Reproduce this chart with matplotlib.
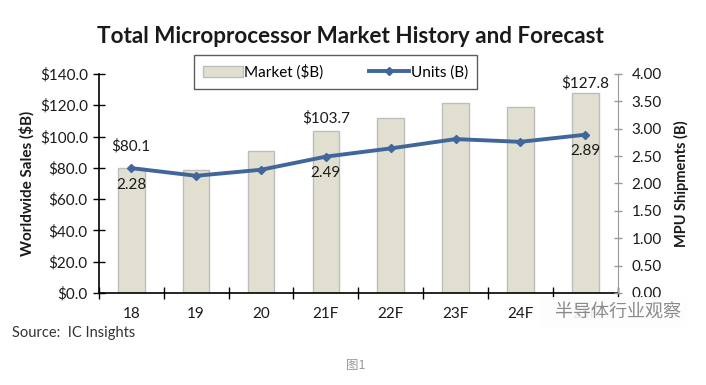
import matplotlib
matplotlib.use("Agg")
import matplotlib.pyplot as plt
import numpy as np

# data
years = ["18", "19", "20", "21F", "22F", "23F", "24F", "25F"]
market = [80.1, 78.4, 90.6, 103.7, 111.6, 121.5, 119.0, 127.8]
units = [2.28, 2.14, 2.25, 2.49, 2.64, 2.81, 2.76, 2.89]
market_labels = {0: "$80.1", 3: "$103.7", 7: "$127.8"}
unit_labels = {0: "2.28", 3: "2.49", 7: "2.89"}

plt.rcParams["font.family"] = ["Lato", "DejaVu Sans"]

bar_color = "#E1E0D0"
bar_edge = "#BDBDBD"
line_color = "#41679A"
text_color = "#1A1A1A"

fig = plt.figure(figsize=(7.06, 3.85), dpi=100)
ax = fig.add_axes([0.140, 0.239, 0.735, 0.569])
ax2 = ax.twinx()

x = np.arange(len(years))
bars = ax.bar(x, market, width=0.41, color=bar_color, edgecolor=bar_edge,
              linewidth=1.0, label="Market ($B)", zorder=2)
ax.set_xlim(-0.5, len(years) - 0.5)
ax.set_ylim(0, 140)
ax.set_yticks(np.arange(0, 141, 20))
ax.set_yticklabels([f"${v:.1f}" for v in np.arange(0, 141, 20)])

ax2.plot(x, units, color=line_color, linewidth=2.8, marker="D",
         markersize=4.5, label="Units (B)", zorder=3)
ax2.set_ylim(0, 4)
ax2.set_yticks(np.arange(0, 4.01, 0.5))
ax2.set_yticklabels([f"{v:.2f}" for v in np.arange(0, 4.01, 0.5)])

# the first label sits above the line point, the others just above the bar
label_gap = {0: 10, 3: 4, 7: 2}
for i, lbl in market_labels.items():
    ax.annotate(lbl, (x[i], market[i]), xytext=(0, label_gap[i]),
                textcoords="offset points", ha="center", va="bottom",
                fontsize=11, color=text_color)
for i, lbl in unit_labels.items():
    ax2.annotate(lbl, (x[i], units[i]), xytext=(0, -7),
                 textcoords="offset points", ha="center", va="top",
                 fontsize=11, color=text_color)

# axes styling
ax.set_xticks(x)
ax.set_xticklabels(years)
ax.set_xticks(np.arange(-0.5, len(years), 1), minor=True)
ax.tick_params(axis="x", which="major", length=0, pad=10, labelsize=11,
               labelcolor=text_color)
ax.tick_params(axis="x", which="minor", length=8, direction="inout", width=1)
ax.tick_params(axis="y", length=8, direction="inout", width=1, labelsize=11,
               labelcolor=text_color, pad=4)
ax2.tick_params(axis="y", length=6, direction="inout", width=1, labelsize=11,
                labelcolor=text_color, pad=7, color="#999999")
for a in (ax, ax2):
    a.spines["top"].set_visible(False)
ax.spines["right"].set_visible(False)
ax2.spines["left"].set_visible(False)
ax2.spines["bottom"].set_visible(False)
ax.spines["left"].set_linewidth(1.2)
ax.spines["bottom"].set_linewidth(1.2)
ax2.spines["right"].set_color("#999999")

ax.set_ylabel("Worldwide Sales ($B)", fontsize=11, fontweight="bold",
              color=text_color, labelpad=4)
ax2.set_ylabel("MPU Shipments (B)", fontsize=10.5, fontweight="bold",
               color=text_color, labelpad=9)

fig.text(0.497, 0.905, "Total Microprocessor Market History and Forecast",
         ha="center", va="center", fontsize=16.2, fontweight="bold",
         color=text_color)

handles = [bars, ax2.get_lines()[0]]
leg = fig.legend(handles, ["Market ($B)", "Units (B)"], ncol=2,
                 loc="center", bbox_to_anchor=(0.475, 0.813),
                 frameon=True, fancybox=False, fontsize=11,
                 handlelength=2.6, columnspacing=3.0, borderpad=0.6,
                 handletextpad=0.1, borderaxespad=0)
leg.get_frame().set_edgecolor("#333333")
leg.get_frame().set_linewidth(1.0)

fig.text(0.017, 0.135, "Source:  IC Insights", ha="left", va="center",
         fontsize=10.5, color="#333333")
# watermark with its pale backing box, hiding the last tick labels as in the source
fig.text(0.775, 0.19, "  半导体行业观察", ha="left", va="center",
         fontsize=13, color="#8A8A8A", family=["Noto Sans CJK SC"],
         bbox=dict(boxstyle="square,pad=0.35", facecolor="#FDFDFD",
                   edgecolor="none", alpha=0.92))
fig.text(0.49, 0.05, "图1", ha="left", va="center", fontsize=9,
         color="#999999", style="italic", family=["Noto Sans CJK SC"])

fig.savefig("out.png", dpi=100)
plt.close(fig)
